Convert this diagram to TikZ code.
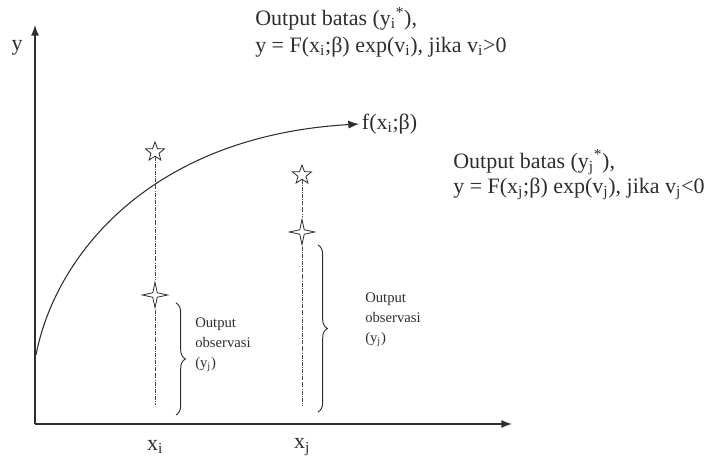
\documentclass[tikz,border=0pt]{standalone}
\usepackage{fontspec}
\setmainfont{Liberation Serif}
\usepackage{tikz}
\usetikzlibrary{arrows.meta,decorations.pathreplacing,shapes.geometric,positioning}
\definecolor{ink}{HTML}{2E2E2E}
\definecolor{guide}{HTML}{4A4A4A}
\newcommand{\lo}[1]{\textsubscript{#1}}
\newcommand{\hi}[1]{\textsuperscript{#1}}

\begin{document}
\begin{tikzpicture}[x=0.75pt,y=0.75pt,ink,font=\fontsize{16.5}{20}\selectfont,
  axis/.style={line width=1pt,-{Latex[length=8pt,width=6pt]}},
  guideline/.style={densely dashdotted,thin,guide},
  upper/.style={star,star points=5,star point ratio=2.4,draw,fill=white,line width=0.6pt,minimum size=15pt,inner sep=0pt},
  lower/.style={star,star points=4,star point ratio=4,draw,fill=white,line width=0.6pt,minimum size=19pt,inner sep=0pt},
  bracer/.style={decorate,decoration={brace,amplitude=7pt},line width=0.7pt},
  note/.style={align=left,anchor=west,inner sep=0pt}]
  \useasboundingbox (0,0) rectangle (728,456);
  \coordinate (O) at (35,32); \coordinate (ytip) at (35,431); \coordinate (xtip) at (512,32);
  \draw[axis] (O)--(ytip); \draw[axis] (O)--(xtip);
  \node (ylab) at (17,408) {y};
  \coordinate (c0) at (36,101); \coordinate (fend) at (359,332);
  \draw[line width=0.8pt,-{Latex[length=8pt,width=6pt]}] (c0) .. controls (55,200) and (150,320) .. (fend);
  \node[anchor=west,inner sep=2pt] (flab) at (fend) {f(x\lo{i};β)};
  \node[upper] (si) at (155,304) {}; \node[lower] (qi) at (155,161) {};
  \node[upper] (sj) at (302,281) {}; \node[lower] (qj) at (302,224) {};
  \coordinate (bi) at (155,51); \coordinate (bj) at (302,51);
  \draw[guideline] (si.south)--(qi.north); \draw[guideline] (qi.south)--(bi);
  \draw[guideline] (sj.south)--(qj.north); \draw[guideline] (qj.south)--(bj);
  \coordinate (bti) at (176,153); \coordinate (bbi) at (176,41);
  \coordinate (btj) at (318,211); \coordinate (bbj) at (318,44);
  \draw[bracer] (bti)--(bbi); \draw[bracer] (btj)--(bbj);
  \node[note,font=\fontsize{11}{15}\selectfont] (obsi) at (195,111) {Output\\observasi\\(y\lo{j})};
  \node[note,font=\fontsize{11}{15}\selectfont] (obsj) at (365,136) {Output\\observasi\\(y\lo{j})};
  \node[note] (topnote) at (255,424) {Output batas (y\lo{i}\hi{*}),\\y = F(x\lo{i};β) exp(v\lo{i}), jika v\lo{i}>0};
  \node[note,font=\fontsize{16.5}{19}\selectfont] (sidenote) at (453,281) {Output batas (y\lo{j}\hi{*}),\\y = F(x\lo{j};β) exp(v\lo{j}), jika v\lo{j}<0};
  \node (xi) at (155,9) {x\lo{i}};
  \node (xj) at (302,9) {x\lo{j}};
\end{tikzpicture}
\end{document}
